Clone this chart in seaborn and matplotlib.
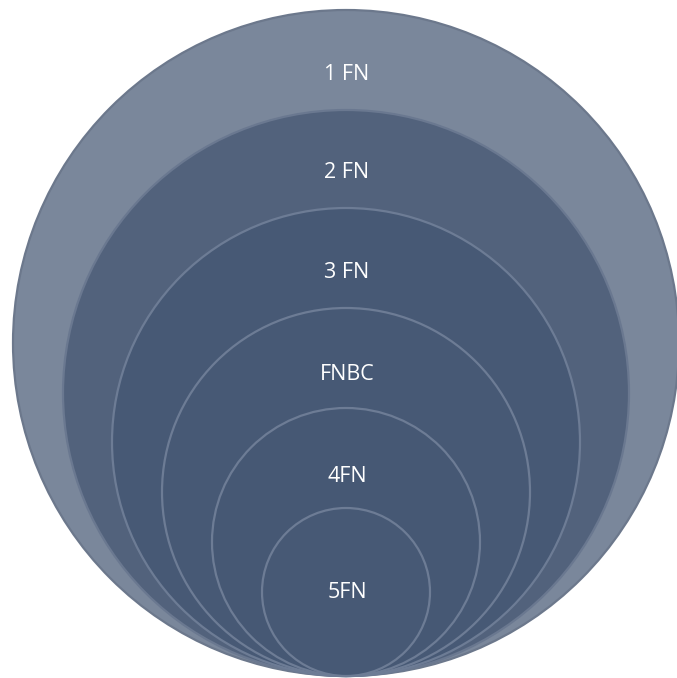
import matplotlib
matplotlib.use("Agg")
import matplotlib.pyplot as plt
from matplotlib.patches import Circle
import seaborn as sns

labels = ["1 FN", "2 FN", "3 FN", "FNBC", "4FN", "5FN"]
radii = [333, 283, 234, 184, 134, 84]
label_y = [74, 173, 272, 375, 477, 592]
fills = ["#7a879b", "#52627c", "#475975", "#475975", "#465874", "#475975"]
edges = ["#6c788c", "#6a7890", "#6d7c95", "#6d7c95", "#6d7c95", "#6d7c95"]

center_x = 346
bottom_y = 676

sns.set_theme(style="white")
plt.rcParams['font.family'] = ['Open Sans', 'DejaVu Sans']

fig = plt.figure(figsize=(6.77, 6.78), dpi=100)
ax = fig.add_axes([0, 0, 1, 1])
ax.set_xlim(0, 677)
ax.set_ylim(678, 0)
ax.set_aspect("equal")
ax.axis("off")

for i, (r, fc, ec) in enumerate(zip(radii, fills, edges)):
    cy = bottom_y - r
    ax.add_patch(Circle((center_x, cy), r, facecolor=fc, edgecolor=ec,
                        linewidth=1.6, zorder=2 + i))

for i, (lab, y) in enumerate(zip(labels, label_y)):
    ax.text(center_x + 1, y, lab, ha="center", va="center", color="white",
            fontsize=15.5, zorder=20)

fig.savefig("out.png", dpi=100, facecolor="white")
